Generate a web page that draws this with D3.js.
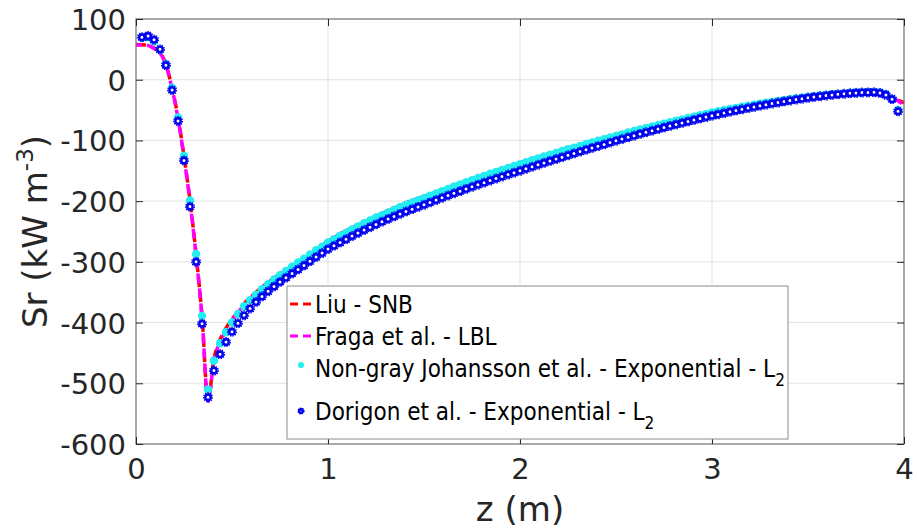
<!DOCTYPE html>
<html>
<head>
<meta charset="utf-8">
<script src="https://cdn.jsdelivr.net/npm/d3@7"></script>
<style>
  body { margin: 0; background: #fff; }
  text { font-family: "DejaVu Sans", sans-serif; }
</style>
</head>
<body>
<div id="chart"></div>
<script>
// marker positions along z (m)
var zMarkers = [0.031, 0.063, 0.094, 0.125, 0.156, 0.188, 0.219, 0.25, 0.281, 0.313, 0.344, 0.375, 0.406, 0.438, 0.469, 0.5,
  0.531, 0.563, 0.594, 0.625, 0.656, 0.688, 0.719, 0.75, 0.781, 0.813, 0.844, 0.875, 0.906, 0.938, 0.969, 1.0,
  1.031, 1.063, 1.094, 1.125, 1.156, 1.188, 1.219, 1.25, 1.281, 1.313, 1.344, 1.375, 1.406, 1.438, 1.469, 1.5,
  1.531, 1.563, 1.594, 1.625, 1.656, 1.688, 1.719, 1.75, 1.781, 1.813, 1.844, 1.875, 1.906, 1.938, 1.969, 2.0,
  2.031, 2.063, 2.094, 2.125, 2.156, 2.188, 2.219, 2.25, 2.281, 2.313, 2.344, 2.375, 2.406, 2.438, 2.469, 2.5,
  2.531, 2.563, 2.594, 2.625, 2.656, 2.688, 2.719, 2.75, 2.781, 2.813, 2.844, 2.875, 2.906, 2.938, 2.969, 3.0,
  3.031, 3.063, 3.094, 3.125, 3.156, 3.188, 3.219, 3.25, 3.281, 3.313, 3.344, 3.375, 3.406, 3.438, 3.469, 3.5,
  3.531, 3.563, 3.594, 3.625, 3.656, 3.688, 3.719, 3.75, 3.781, 3.813, 3.844, 3.875, 3.906, 3.938, 3.969]

// Non-gray Johansson et al. - Exponential - L2
var johansson = [69, 70, 63, 49, 26, -13, -62, -125, -199, -287, -389, -510, -463, -434, -416, -400,
  -386, -373, -363, -354, -345, -337, -329, -322, -315, -308, -301, -295, -288, -281, -275, -268,
  -262.5, -257, -252, -246.5, -241.5, -236.5, -232, -227, -223, -218.5, -214, -210, -206, -202, -198.5, -195,
  -191, -187.5, -183.5, -180, -176, -172.5, -169, -165.5, -162, -158.5, -155, -152, -148.5, -145.5, -142, -139,
  -136, -132.5, -129.5, -126.5, -123.5, -120.5, -117.5, -114.5, -112, -109, -106, -103.5, -100.5, -98, -95, -92.5,
  -90, -87, -84.5, -82, -79.5, -77, -74.5, -72.5, -70, -67.5, -65.5, -63, -61, -58.5, -56.5, -54,
  -52, -50, -48, -46.5, -44.5, -43, -41, -39.5, -38, -36.5, -35, -33.5, -32, -30.5, -29.5, -28,
  -27, -26, -25, -24, -23.5, -22.5, -22, -21.5, -21, -20.5, -20.5, -21, -24, -32, -50]

// Dorigon et al. - Exponential - L2
var dorigon = [70, 72, 66, 50, 24, -17, -68, -133, -209, -300, -402, -523, -479, -452, -432, -415,
  -401, -388, -377, -366, -357, -348.5, -340.5, -333, -326, -319, -312.5, -306, -299, -292, -285.5, -279,
  -273.5, -268.1, -262.8, -257.6, -252.6, -247.7, -242.9, -238.3, -233.8, -229.4, -225.2, -221.1, -217.1, -213.2, -209.5, -206,
  -202.1, -198.3, -194.5, -190.8, -187.1, -183.5, -179.9, -176.4, -172.9, -169.5, -166.1, -162.8, -159.5, -156.3, -153.1, -150,
  -146.7, -143.4, -140.2, -137, -133.8, -130.7, -127.6, -124.5, -121.4, -118.4, -115.4, -112.4, -109.4, -106.5, -103.6, -100.7,
  -97.8, -94.9, -92.1, -89.3, -86.6, -83.9, -81.3, -78.7, -76.1, -73.6, -71.1, -68.7, -66.3, -63.9, -61.6, -59.3,
  -57.1, -54.9, -52.8, -50.7, -48.7, -46.7, -44.8, -42.9, -41.1, -39.3, -37.6, -35.9, -34.3, -32.7, -31.2, -29.8,
  -28.5, -27.3, -26.2, -25.1, -24.1, -23.2, -22.4, -21.7, -21.2, -20.9, -20.8, -22, -25, -32, -52]

// reference curves
var zLines = [0, 0.05, 0.075, 0.1, 0.125, 0.156, 0.188, 0.219, 0.25, 0.281, 0.313, 0.344, 0.375, 0.406, 0.438, 0.469, 0.5,
  0.563, 0.625, 0.75, 0.875, 1.0, 1.2, 1.4, 1.6, 1.8, 2.0, 2.25, 2.5, 2.75, 3.0, 3.25, 3.5, 3.6, 3.7, 3.8, 3.85, 3.9, 3.95, 4.0]
var liu = [58, 57, 55, 51, 45, 25, -14, -62, -126, -198, -288, -390, -528, -460, -428, -409, -395,
  -369, -350, -320, -296, -266, -233, -204, -181, -158, -137, -113, -91, -71, -53, -39, -27.5, -24.5, -22, -20.5, -21, -24, -31, -38]
var fraga = [57, 57, 55, 50, 44, 24, -15, -64, -128, -200, -290, -392, -530, -462, -432, -413, -398,
  -371, -351, -320, -296, -266, -233, -204, -181, -158, -137, -113, -91, -71, -53, -39, -27.5, -24.5, -22, -20.5, -20.5, -23, -31, -42]

var xTicks = [0, 1, 2, 3, 4]
var yTicks = [100, 0, -100, -200, -300, -400, -500, -600]

var width = 917, height = 531
var margin = { top: 19, right: 13, bottom: 87, left: 136 }
var boundedWidth = width - margin.left - margin.right
var boundedHeight = height - margin.top - margin.bottom

var svg = d3.select("#chart").append("svg")
  .attr("width", width)
  .attr("height", height)

var bounds = svg.append("g")
  .attr("transform", `translate(${margin.left},${margin.top})`)

var xScale = d3.scaleLinear().domain([0, 4]).range([0, boundedWidth])
var yScale = d3.scaleLinear().domain([-600, 100]).range([boundedHeight, 0])

// grid
bounds.append("g").selectAll("line")
  .data(xTicks.slice(1, -1))
  .join("line")
  .attr("x1", d => xScale(d)).attr("x2", d => xScale(d))
  .attr("y1", 0).attr("y2", boundedHeight)
  .attr("stroke", "#e3e3e3").attr("stroke-width", 1)
bounds.append("g").selectAll("line")
  .data(yTicks.slice(1, -1))
  .join("line")
  .attr("x1", 0).attr("x2", boundedWidth)
  .attr("y1", d => yScale(d)).attr("y2", d => yScale(d))
  .attr("stroke", "#e3e3e3").attr("stroke-width", 1)

// curves
var lineGen = (vals) => d3.line()
  .x((d, i) => xScale(zLines[i]))
  .y(d => yScale(d))
  .curve(d3.curveMonotoneX)(vals)

bounds.append("path")
  .attr("d", lineGen(liu))
  .attr("fill", "none").attr("stroke", "#ff0000")
  .attr("stroke-width", 3.5).attr("stroke-dasharray", "10 5")
bounds.append("path")
  .attr("d", lineGen(fraga))
  .attr("fill", "none").attr("stroke", "#ff00ff")
  .attr("stroke-width", 3.5).attr("stroke-dasharray", "10 5")
  .attr("stroke-dashoffset", 4)

// markers
bounds.append("g").selectAll("circle")
  .data(johansson)
  .join("circle")
  .attr("cx", (d, i) => xScale(zMarkers[i]))
  .attr("cy", d => yScale(d))
  .attr("r", 4.2)
  .attr("fill", "#22eef2")

function dorigonMarker(g, r) {
  g.append("circle").attr("r", r * 1.6)
    .attr("fill", "none").attr("stroke", "#0000ee")
    .attr("stroke-width", 1.4).attr("stroke-dasharray", "1.4 1")
  g.append("circle").attr("r", r)
    .attr("fill", "#fff").attr("stroke", "#0000ee").attr("stroke-width", 2.4)
}

bounds.append("g").selectAll("g")
  .data(dorigon)
  .join("g")
  .attr("transform", (d, i) => `translate(${xScale(zMarkers[i])},${yScale(d)})`)
  .each(function() { dorigonMarker(d3.select(this), 2.7) })

// box and axes
bounds.append("rect")
  .attr("width", boundedWidth).attr("height", boundedHeight)
  .attr("fill", "none").attr("stroke", "#6e6e6e").attr("stroke-width", 1.2)

var fmt = d => String(d)
var xAxis = bounds.append("g")
  .attr("transform", `translate(0,${boundedHeight})`)
  .call(d3.axisBottom(xScale).tickValues(xTicks).tickSize(-7).tickPadding(14).tickFormat(fmt))
var xAxisTop = bounds.append("g")
  .call(d3.axisTop(xScale).tickValues(xTicks).tickSize(-7).tickFormat(""))
var yAxis = bounds.append("g")
  .call(d3.axisLeft(yScale).tickValues(yTicks).tickSize(-7).tickPadding(10).tickFormat(fmt))
var yAxisRight = bounds.append("g")
  .attr("transform", `translate(${boundedWidth},0)`)
  .call(d3.axisRight(yScale).tickValues(yTicks).tickSize(-7).tickFormat(""))

svg.selectAll(".domain").remove()
svg.selectAll(".tick line").attr("stroke", "#262626").attr("stroke-width", 1)
svg.selectAll(".tick text")
  .attr("font-family", "DejaVu Sans")
  .attr("font-size", 29)
  .attr("fill", "#262626")
yAxis.selectAll(".tick text").attr("dy", "0.36em")
xAxis.selectAll(".tick text").attr("dy", "0.71em")

// axis labels
svg.append("text")
  .attr("x", margin.left + boundedWidth / 2)
  .attr("y", 521)
  .attr("text-anchor", "middle")
  .attr("font-size", 34)
  .attr("fill", "#262626")
  .text("z (m)")

var yLabel = svg.append("text")
  .attr("transform", `translate(47,${margin.top + boundedHeight / 2}) rotate(-90)`)
  .attr("text-anchor", "middle")
  .attr("font-size", 34)
  .attr("fill", "#262626")
yLabel.append("tspan").text("Sr (kW m")
yLabel.append("tspan").attr("font-size", 23).attr("dy", -14).text("-3")
yLabel.append("tspan").attr("dy", 14).text(")")

// legend
var legend = svg.append("g")
legend.append("rect")
  .attr("x", 287).attr("y", 286)
  .attr("width", 501).attr("height", 153)
  .attr("fill", "#fff").attr("stroke", "#8c8c8c").attr("stroke-width", 1)

var legendItems = [
  { label: "Liu - SNB", sub: null, type: "line", color: "#ff0000", y: 313 },
  { label: "Fraga et al. - LBL", sub: null, type: "line", color: "#ff00ff", y: 345 },
  { label: "Non-gray Johansson et al. - Exponential - L", sub: "2", type: "cyan", y: 377 },
  { label: "Dorigon et al. - Exponential - L", sub: "2", type: "blue", y: 420 }
]

legendItems.forEach(item => {
  var cy = item.y - 9
  if (item.type === "line") {
    legend.append("line")
      .attr("x1", 290).attr("x2", 312)
      .attr("y1", cy).attr("y2", cy)
      .attr("stroke", item.color).attr("stroke-width", 3)
      .attr("stroke-dasharray", "8 5")
  } else if (item.type === "cyan") {
    legend.append("circle").attr("cx", 301).attr("cy", cy - 3).attr("r", 3).attr("fill", "#22eef2")
  } else {
    var g = legend.append("g").attr("transform", `translate(301,${cy})`)
    dorigonMarker(g, 1.8)
  }
  var t = legend.append("text")
    .attr("x", 315).attr("y", item.y)
    .attr("font-size", 24)
    .attr("font-stretch", "condensed")
    .attr("fill", "#000")
  t.append("tspan").text(item.label)
  if (item.sub) t.append("tspan").attr("font-size", 17).attr("dy", 9).text(item.sub)
})
</script>
</body>
</html>
